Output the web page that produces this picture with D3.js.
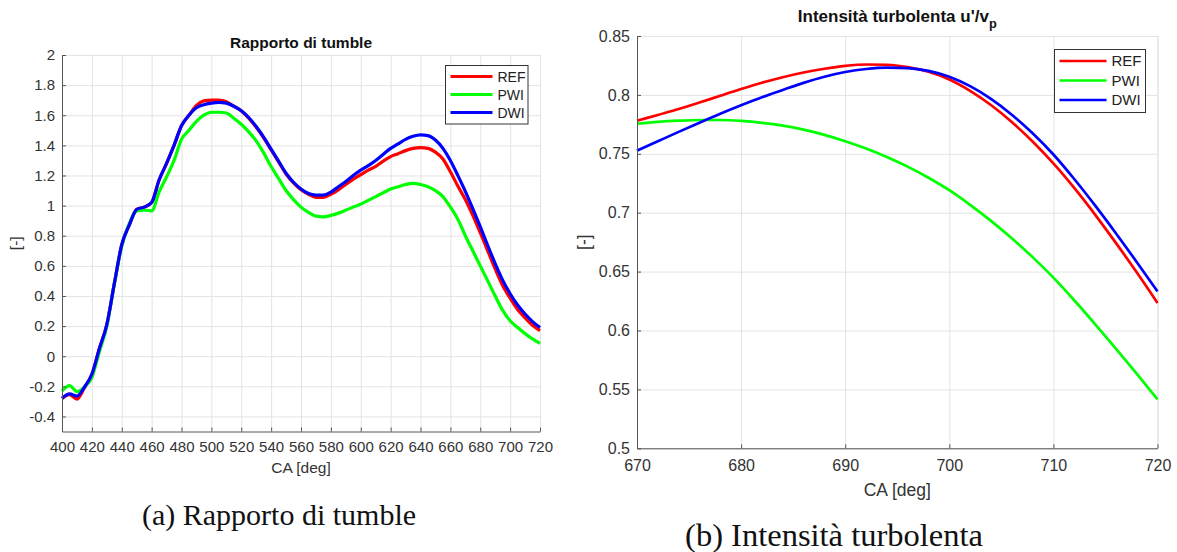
<!DOCTYPE html>
<html>
<head>
<meta charset="utf-8">
<script src="https://cdn.jsdelivr.net/npm/d3@7"></script>
<style>
  body { margin: 0; background: #fff; }
  text { font-family: "Liberation Sans", Arial, sans-serif; }
</style>
</head>
<body>
<script>
// =======================================================
// Dati
// =======================================================
var seriesNames = ["REF", "PWI", "DWI"];
var seriesColors = ["#ff0000", "#00ff00", "#0000ff"];

// (a) rapporto di tumble, passo 5 deg
var caTumble = [400, 405, 410, 415, 420, 425, 430, 435, 440, 445, 450, 455, 460, 465, 470, 475,
  480, 485, 490, 495, 500, 505, 510, 515, 520, 525, 530, 535, 540, 545, 550, 555,
  560, 565, 570, 575, 580, 585, 590, 595, 600, 605, 610, 615, 620, 625, 630, 635,
  640, 645, 650, 655, 660, 665, 670, 675, 680, 685, 690, 695, 700, 705, 710, 715, 720];
var tumbleRef = [-0.28, -0.255, -0.285, -0.21, -0.12, 0.05, 0.21, 0.48, 0.74, 0.87, 0.975, 0.99, 1.02, 1.17, 1.28, 1.40,
  1.53, 1.60, 1.665, 1.695, 1.70, 1.70, 1.69, 1.66, 1.63, 1.58, 1.52, 1.45, 1.37, 1.29, 1.21, 1.15,
  1.105, 1.075, 1.055, 1.055, 1.075, 1.105, 1.14, 1.175, 1.205, 1.235, 1.26, 1.295, 1.325, 1.345, 1.365, 1.38,
  1.385, 1.38, 1.355, 1.31, 1.225, 1.13, 1.04, 0.935, 0.82, 0.70, 0.58, 0.47, 0.385, 0.31, 0.255, 0.205, 0.17];
var tumblePwi = [-0.23, -0.195, -0.235, -0.205, -0.14, 0.03, 0.20, 0.48, 0.73, 0.88, 0.965, 0.97, 0.965, 1.09, 1.19, 1.30,
  1.44, 1.50, 1.56, 1.60, 1.62, 1.62, 1.615, 1.58, 1.54, 1.49, 1.43, 1.35, 1.26, 1.18, 1.10, 1.04,
  0.99, 0.955, 0.93, 0.925, 0.935, 0.95, 0.97, 0.99, 1.01, 1.035, 1.06, 1.085, 1.11, 1.125, 1.14, 1.148,
  1.14, 1.125, 1.10, 1.06, 0.99, 0.91, 0.80, 0.70, 0.60, 0.50, 0.40, 0.305, 0.235, 0.19, 0.15, 0.115, 0.085];
var tumbleDwi = [-0.28, -0.25, -0.265, -0.205, -0.12, 0.05, 0.21, 0.48, 0.74, 0.87, 0.975, 0.99, 1.02, 1.17, 1.28, 1.40,
  1.53, 1.60, 1.65, 1.67, 1.68, 1.685, 1.68, 1.66, 1.63, 1.585, 1.525, 1.455, 1.375, 1.295, 1.215, 1.155,
  1.11, 1.08, 1.07, 1.07, 1.09, 1.125, 1.16, 1.20, 1.235, 1.265, 1.30, 1.34, 1.38, 1.41, 1.44, 1.46,
  1.47, 1.465, 1.435, 1.38, 1.30, 1.20, 1.095, 0.98, 0.86, 0.735, 0.615, 0.505, 0.415, 0.34, 0.28, 0.23, 0.19];
var tumbleXTicks = [400, 420, 440, 460, 480, 500, 520, 540, 560, 580, 600, 620, 640, 660, 680, 700, 720];
var tumbleYTicks = [-0.4, -0.2, 0, 0.2, 0.4, 0.6, 0.8, 1, 1.2, 1.4, 1.6, 1.8, 2];

// (b) intensita' turbolenta, passo 2 deg
var caTurb = [670, 672, 674, 676, 678, 680, 682, 684, 686, 688, 690, 692, 694,
  696, 698, 700, 702, 704, 706, 708, 710, 712, 714, 716, 718, 720];
var turbRef = [0.778, 0.783, 0.788, 0.7935, 0.7993, 0.8050, 0.8103, 0.8150, 0.8190, 0.8222, 0.8246, 0.8258, 0.8256,
  0.8236, 0.8196, 0.8130, 0.8034, 0.7914, 0.7770, 0.7604, 0.7418, 0.7210, 0.6984, 0.6744, 0.6494, 0.6234];
var turbPwi = [0.7755, 0.7771, 0.7781, 0.7787, 0.7787, 0.7779, 0.7763, 0.7739, 0.7705, 0.7661, 0.7607, 0.7545, 0.7473,
  0.7391, 0.7297, 0.7191, 0.7067, 0.6931, 0.6783, 0.6623, 0.6449, 0.6257, 0.6055, 0.5847, 0.5633, 0.5415];
var turbDwi = [0.7526, 0.7606, 0.7686, 0.7764, 0.7840, 0.7912, 0.7980, 0.8042, 0.8102, 0.8154, 0.8194, 0.8220, 0.8232,
  0.8228, 0.8204, 0.8154, 0.8074, 0.7966, 0.7832, 0.7674, 0.7494, 0.7286, 0.7062, 0.6826, 0.6582, 0.6332];
var turbXTicks = [670, 680, 690, 700, 710, 720];
var turbYTicks = [0.5, 0.55, 0.6, 0.65, 0.7, 0.75, 0.8, 0.85];

// =======================================================
// SVG
// =======================================================
var width = 1177;
var height = 552;

var svg = d3.select("body")
    .append("svg")
    .attr("width", width)
    .attr("height", height);

function fmt(v) { return String(+v.toFixed(2)); }

// disegna un pannello in stile MATLAB
function drawPanel(p) {
    var x = d3.scaleLinear().domain(p.xDomain).range([p.left, p.right]);
    var y = d3.scaleLinear().domain(p.yDomain).range([p.bottom, p.top]);
    var g = svg.append("g");

    // griglia
    g.append("g")
        .attr("transform", "translate(0," + p.bottom + ")")
        .call(d3.axisBottom(x).tickValues(p.xTicks).tickSize(-(p.bottom - p.top)).tickFormat(""))
        .call(s => s.select(".domain").remove())
        .selectAll("line").attr("stroke", "#e3e3e3");
    g.append("g")
        .attr("transform", "translate(" + p.left + ",0)")
        .call(d3.axisLeft(y).tickValues(p.yTicks).tickSize(-(p.right - p.left)).tickFormat(""))
        .call(s => s.select(".domain").remove())
        .selectAll("line").attr("stroke", "#e3e3e3");
    // bordo alto e destro
    g.append("path")
        .attr("d", "M" + p.left + "," + (p.top + 0.5) + "H" + (p.right + 0.5) + "V" + p.bottom)
        .attr("fill", "none").attr("stroke", "#e3e3e3");

    // linee
    var line = d3.line().curve(d3.curveMonotoneX)
        .x((d, i) => x(p.xs[i]))
        .y(d => y(d));
    p.series.forEach(function (s, i) {
        g.append("path")
            .datum(s)
            .attr("d", line)
            .attr("fill", "none")
            .attr("stroke", seriesColors[i])
            .attr("stroke-width", p.lineWidth)
            .attr("stroke-linejoin", "round");
    });

    // assi
    var ax = g.append("g")
        .attr("transform", "translate(0," + p.bottom + ")")
        .call(d3.axisBottom(x).tickValues(p.xTicks).tickFormat(fmt)
            .tickSizeInner(-4).tickSizeOuter(0).tickPadding(p.xPad));
    var ay = g.append("g")
        .attr("transform", "translate(" + p.left + ",0)")
        .call(d3.axisLeft(y).tickValues(p.yTicks).tickFormat(fmt)
            .tickSizeInner(-4).tickSizeOuter(0).tickPadding(7));
    [ax, ay].forEach(function (a) {
        a.select(".domain").attr("stroke", "#555");
        a.selectAll(".tick line").attr("stroke", "#555");
        a.selectAll("text").attr("fill", "#333")
            .attr("font-size", p.tickSize);
    });

    // titolo
    var t = g.append("text")
        .attr("x", (p.left + p.right) / 2)
        .attr("y", p.titleY)
        .attr("text-anchor", "middle")
        .attr("font-weight", "bold")
        .attr("font-size", p.titleSize)
        .attr("fill", "#111")
        .text(p.title);
    if (p.titleSub) {
        t.append("tspan").attr("dy", 6).attr("font-size", p.titleSize * 0.75).text(p.titleSub);
    }

    // etichette assi
    g.append("text")
        .attr("x", (p.left + p.right) / 2)
        .attr("y", p.xLabelY)
        .attr("text-anchor", "middle")
        .attr("font-size", p.labelSize)
        .attr("fill", "#333")
        .text("CA [deg]");
    g.append("text")
        .attr("transform", "translate(" + p.yLabelX + "," + ((p.top + p.bottom) / 2) + ") rotate(-90)")
        .attr("text-anchor", "middle")
        .attr("font-size", p.labelSize)
        .attr("fill", "#333")
        .text("[-]");

    // legenda
    var lg = g.append("g").attr("transform", "translate(" + p.legX + "," + p.legY + ")");
    lg.append("rect")
        .attr("width", p.legW).attr("height", p.legH)
        .attr("fill", "#fff").attr("stroke", "#333").attr("stroke-width", 1);
    seriesNames.forEach(function (name, i) {
        var yy = p.legRow0 + i * p.legStep;
        lg.append("line")
            .attr("x1", 5).attr("x2", 5 + p.legLine)
            .attr("y1", yy).attr("y2", yy)
            .attr("stroke", seriesColors[i]).attr("stroke-width", p.lineWidth);
        lg.append("text")
            .attr("x", 10 + p.legLine)
            .attr("y", yy)
            .attr("dy", "0.36em")
            .attr("font-size", p.legFont)
            .attr("fill", "#222")
            .text(name);
    });
}

drawPanel({
    xDomain: [400, 720], yDomain: [-0.5, 2],
    left: 62, right: 540, top: 55, bottom: 431.5,
    xs: caTumble, series: [tumbleRef, tumblePwi, tumbleDwi],
    xTicks: tumbleXTicks, yTicks: tumbleYTicks,
    lineWidth: 3.2, tickSize: 15, xPad: 10,
    title: "Rapporto di tumble", titleY: 48, titleSize: 15.5,
    xLabelY: 473, yLabelX: 21, labelSize: 15.5,
    legX: 445.5, legY: 65.5, legW: 82.5, legH: 58.5,
    legRow0: 11, legStep: 18, legLine: 42, legFont: 14
});

drawPanel({
    xDomain: [670, 720], yDomain: [0.5, 0.85],
    left: 637, right: 1157.5, top: 36, bottom: 448.3,
    xs: caTurb, series: [turbRef, turbPwi, turbDwi],
    xTicks: turbXTicks, yTicks: turbYTicks,
    lineWidth: 2.7, tickSize: 16, xPad: 11.5,
    title: "Intensità turbolenta u'/v", titleSub: "p", titleY: 22, titleSize: 17,
    xLabelY: 496, yLabelX: 590, labelSize: 17.5,
    legX: 1054.5, legY: 49.5, legW: 91, legH: 63,
    legRow0: 11.5, legStep: 19.5, legLine: 47, legFont: 15
});

// didascalie (font serif, come in LaTeX)
svg.append("text")
    .attr("x", 279).attr("y", 525)
    .attr("text-anchor", "middle")
    .style("font-family", "'Liberation Serif', serif")
    .attr("font-size", 30)
    .attr("fill", "#111")
    .text("(a) Rapporto di tumble");
svg.append("text")
    .attr("x", 834).attr("y", 546)
    .attr("text-anchor", "middle")
    .style("font-family", "'Liberation Serif', serif")
    .attr("font-size", 32.5)
    .attr("fill", "#111")
    .text("(b) Intensità turbolenta");
</script>
</body>
</html>
